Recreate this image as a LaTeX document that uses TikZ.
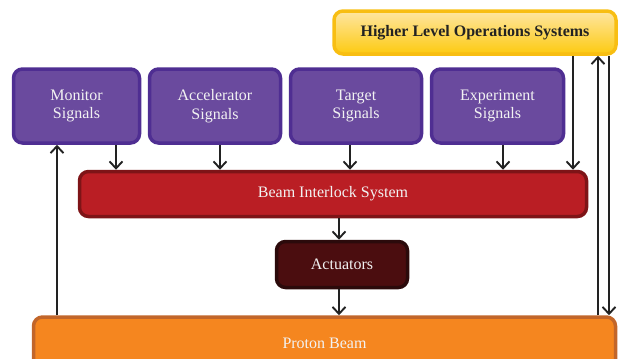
\documentclass[tikz,border=0pt]{standalone}
\usepackage{fontspec}
\setmainfont{Liberation Serif}
\usetikzlibrary{arrows.meta}
\definecolor{purpfill}{HTML}{6A4A9E}
\definecolor{purpline}{HTML}{4F2E92}
\definecolor{redfill}{HTML}{BA1E24}
\definecolor{redline}{HTML}{7E1417}
\definecolor{actfill}{HTML}{4B0D0F}
\definecolor{actline}{HTML}{2B0A0B}
\definecolor{orfill}{HTML}{F5861F}
\definecolor{orline}{HTML}{C2662A}
\definecolor{ylw1}{HTML}{FEE6A2}
\definecolor{ylw2}{HTML}{FDCA10}
\definecolor{ylwline}{HTML}{F8BE12}
\definecolor{arrcol}{HTML}{222222}
\definecolor{txtw}{HTML}{F2F2F2}
\tikzset{
  boxbase/.style={rounded corners=9pt, line width=3.5pt, align=center, inner sep=0pt,
    font=\fontsize{16}{18.5}\selectfont},
  sigbox/.style={boxbase, draw=purpline, fill=purpfill, text=txtw,
    minimum width=126pt, minimum height=74pt},
  bisbox/.style={boxbase, draw=redline, fill=redfill, text=txtw},
  actbox/.style={boxbase, draw=actline, fill=actfill, text=txtw},
  beambox/.style={boxbase, draw=orline, fill=orfill, text=txtw},
  hlbox/.style={boxbase, draw=ylwline, top color=ylw1, bottom color=ylw2, text=arrcol,
    font=\fontsize{16}{18.5}\selectfont\bfseries},
  arr/.style={draw=arrcol, line width=1.9pt, -{Straight Barb[length=7pt,width=13pt,line width=1.9pt]}},
}
\begin{document}
\begin{tikzpicture}[x=1pt,y=-1pt]
\clip (0,0) rectangle (619,359);
\useasboundingbox (0,0) rectangle (619,359);
\node[hlbox, minimum width=282pt, minimum height=43pt] (hl) at (475,32.5) {Higher Level Operations Systems};
\node[sigbox, minimum width=126pt] (mon) at (76.5,106) {Monitor\\Signals};
\node[sigbox, minimum width=131pt] (acc) at (215,106) {Accelerator\\Signals};
\node[sigbox, minimum width=131pt] (tgt) at (356,106) {Target\\Signals};
\node[sigbox, minimum width=132pt] (exp) at (497.5,106) {Experiment\\Signals};
\node[bisbox, minimum width=507pt, minimum height=45pt] (bis) at (333,194) {Beam Interlock System};
\node[actbox, minimum width=131pt, minimum height=46pt] (act) at (342,264.5) {Actuators};
\node[beambox, minimum width=582pt, minimum height=52pt] (beam) at (324.5,343) {Proton Beam};
% arrows from signal boxes to BIS
\draw[arr] (mon.south -| 116,0) -- (bis.north -| 116,0);
\draw[arr] (acc.south -| 220,0) -- (bis.north -| 220,0);
\draw[arr] (tgt.south -| 350,0) -- (bis.north -| 350,0);
\draw[arr] (exp.south -| 503,0) -- (bis.north -| 503,0);
\draw[arr] (hl.south -| 573,0) -- (bis.north -| 573,0);
% chain
\draw[arr] (bis.south -| 339,0) -- (act.north -| 339,0);
\draw[arr] (act.south -| 339,0) -- (beam.north -| 339,0);
% feedback
\draw[arr] (beam.north -| 57,0) -- (mon.south -| 57,0);
\draw[arr] (beam.north -| 598,0) -- (hl.south -| 598,0);
\draw[arr] (hl.south -| 609,0) -- (beam.north -| 609,0);
\end{tikzpicture}
\end{document}
